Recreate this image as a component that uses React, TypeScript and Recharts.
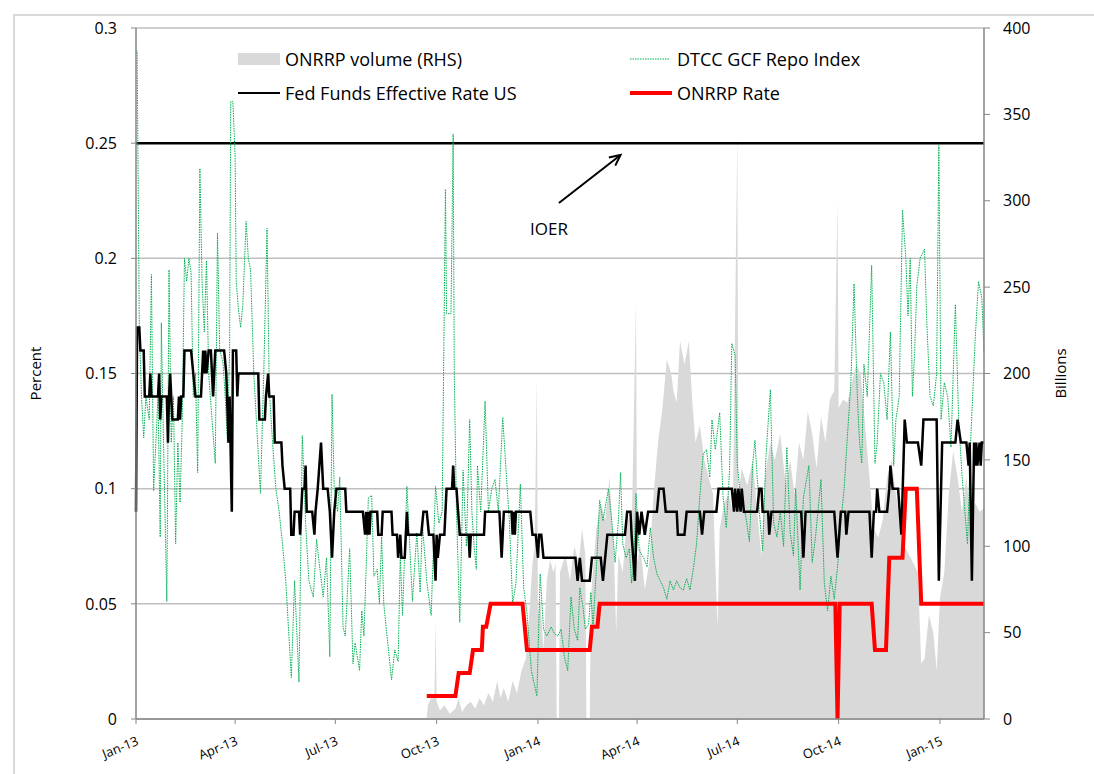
import React from "react";
import {
  ComposedChart,
  Area,
  Line,
  XAxis,
  YAxis,
  CartesianGrid,
  ReferenceLine,
  ReferenceDot,
} from "recharts";

// x values are days counted from 1 Jan 2013
const monthTicks = [0, 90, 181, 273, 365, 455, 546, 638, 730];
const monthLabels = ["Jan-13", "Apr-13", "Jul-13", "Oct-13", "Jan-14", "Apr-14", "Jul-14", "Oct-14", "Jan-15"];
const percentTicks = [0, 0.05, 0.1, 0.15, 0.2, 0.25, 0.3];
const billionTicks = [0, 50, 100, 150, 200, 250, 300, 350, 400];
const ioerRate = 0.25;

// ONRRP take-up, $bn (right axis)
const onrrpVolume: [number, number][] = [
  [264, 0], [265, 8], [268, 12], [271, 12], [272, 58], [273, 10], [276, 5], [280, 8], [285, 3], [290, 6],
  [293, 12], [296, 4], [300, 8], [304, 10], [308, 6], [312, 12], [316, 8], [320, 15], [324, 10], [328, 22],
  [331, 12], [334, 18], [338, 10], [342, 22], [346, 15], [350, 28], [354, 35], [357, 60], [360, 90], [362, 100],
  [364, 198], [365, 60], [367, 70], [370, 40], [373, 80], [376, 92], [379, 85], [381, 90], [382, 0], [384, 0],
  [385, 85], [390, 95], [394, 80], [398, 100], [402, 90], [405, 110], [408, 95], [409, 0], [412, 0], [413, 70],
  [418, 110], [422, 125], [426, 115], [430, 140], [434, 95], [436, 50], [438, 95], [442, 85], [446, 120], [450, 105],
  [454, 242], [455, 90], [458, 100], [462, 75], [466, 90], [470, 130], [474, 160], [478, 180], [482, 208], [486, 200],
  [488, 190], [491, 183], [494, 219], [498, 205], [502, 219], [505, 185], [508, 160], [512, 170], [516, 150], [520, 140],
  [524, 130], [528, 53], [530, 110], [534, 125], [538, 130], [542, 120], [546, 339], [547, 130], [550, 145], [555, 135],
  [560, 150], [564, 120], [568, 94], [571, 140], [576, 160], [580, 150], [585, 165], [590, 135], [594, 150], [598, 130],
  [602, 160], [606, 150], [610, 178], [614, 165], [618, 145], [622, 175], [626, 160], [630, 185], [634, 190], [637, 300],
  [638, 180], [642, 185], [646, 183], [650, 195], [654, 205], [658, 200], [662, 170], [666, 140], [670, 110], [674, 105],
  [678, 115], [682, 140], [686, 150], [690, 130], [694, 115], [698, 100], [702, 95], [706, 90], [710, 85], [713, 32],
  [716, 35], [720, 60], [724, 50], [727, 28], [730, 70], [734, 85], [738, 130], [742, 155], [746, 140], [750, 120],
  [754, 140], [758, 115], [762, 125], [766, 120], [770, 122],
];

// DTCC GCF Repo Index (treasury), percent
const gcfRepo: [number, number][] = [
  [0, 0.29], [1, 0.29], [3, 0.171], [5, 0.14], [7, 0.122], [9, 0.14], [12, 0.13], [14, 0.193], [16, 0.099], [18, 0.12],
  [20, 0.14], [22, 0.079], [23, 0.172], [25, 0.12], [28, 0.051], [30, 0.195], [32, 0.12], [34, 0.14], [36, 0.076], [38, 0.12],
  [40, 0.094], [42, 0.13], [44, 0.2], [46, 0.19], [48, 0.2], [50, 0.194], [52, 0.14], [54, 0.15], [56, 0.107], [58, 0.239],
  [60, 0.19], [62, 0.168], [64, 0.199], [66, 0.15], [69, 0.13], [72, 0.111], [74, 0.211], [76, 0.16], [79, 0.155], [81, 0.14],
  [83, 0.12], [85, 0.16], [86, 0.268], [88, 0.268], [90, 0.244], [91, 0.19], [93, 0.178], [95, 0.17], [97, 0.18], [100, 0.216],
  [102, 0.2], [104, 0.195], [107, 0.15], [111, 0.115], [113, 0.098], [116, 0.15], [119, 0.213], [121, 0.143], [124, 0.12], [127, 0.1],
  [130, 0.09], [133, 0.076], [136, 0.06], [141, 0.018], [144, 0.06], [148, 0.016], [151, 0.123], [154, 0.085], [157, 0.06], [161, 0.053],
  [164, 0.078], [167, 0.065], [170, 0.053], [173, 0.07], [176, 0.027], [178, 0.141], [180, 0.1], [183, 0.09], [185, 0.105], [188, 0.04],
  [190, 0.036], [194, 0.074], [197, 0.024], [199, 0.033], [203, 0.021], [205, 0.047], [207, 0.036], [211, 0.096], [214, 0.097], [216, 0.062],
  [219, 0.065], [221, 0.05], [223, 0.079], [225, 0.05], [232, 0.017], [235, 0.03], [238, 0.025], [240, 0.071], [242, 0.045], [246, 0.101],
  [249, 0.071], [251, 0.051], [255, 0.081], [258, 0.055], [260, 0.085], [264, 0.06], [268, 0.045], [272, 0.101], [275, 0.085], [278, 0.09],
  [281, 0.23], [282, 0.176], [286, 0.176], [288, 0.254], [289, 0.15], [291, 0.09], [294, 0.042], [297, 0.108], [300, 0.075], [303, 0.13],
  [305, 0.09], [307, 0.075], [309, 0.065], [310, 0.11], [313, 0.09], [317, 0.138], [320, 0.09], [323, 0.1], [326, 0.104], [329, 0.09],
  [333, 0.131], [336, 0.108], [339, 0.086], [342, 0.05], [345, 0.059], [349, 0.102], [352, 0.057], [355, 0.046], [359, 0.021], [364, 0.01],
  [367, 0.063], [370, 0.039], [373, 0.036], [377, 0.04], [380, 0.037], [383, 0.036], [386, 0.039], [389, 0.027], [392, 0.021], [395, 0.053],
  [398, 0.039], [401, 0.034], [403, 0.057], [406, 0.048], [408, 0.039], [411, 0.041], [413, 0.055], [415, 0.04], [418, 0.065], [421, 0.095],
  [424, 0.086], [429, 0.1], [432, 0.086], [435, 0.068], [438, 0.086], [440, 0.107], [442, 0.076], [445, 0.07], [448, 0.074], [450, 0.059],
  [452, 0.068], [454, 0.098], [457, 0.073], [461, 0.07], [464, 0.066], [467, 0.083], [470, 0.07], [473, 0.063], [476, 0.06], [479, 0.057],
  [482, 0.052], [485, 0.06], [488, 0.056], [491, 0.06], [494, 0.057], [497, 0.056], [500, 0.061], [503, 0.056], [506, 0.065], [509, 0.076],
  [512, 0.097], [515, 0.115], [518, 0.117], [521, 0.105], [523, 0.13], [526, 0.117], [530, 0.133], [533, 0.097], [536, 0.083], [539, 0.108],
  [541, 0.163], [544, 0.158], [546, 0.11], [548, 0.101], [551, 0.094], [554, 0.087], [557, 0.077], [560, 0.111], [562, 0.121], [566, 0.09],
  [569, 0.073], [572, 0.114], [576, 0.143], [579, 0.085], [582, 0.079], [585, 0.09], [588, 0.075], [591, 0.118], [594, 0.081], [597, 0.071],
  [599, 0.1], [603, 0.056], [606, 0.096], [611, 0.11], [614, 0.068], [617, 0.079], [622, 0.104], [625, 0.059], [628, 0.047], [631, 0.062],
  [634, 0.052], [637, 0.066], [640, 0.085], [643, 0.1], [646, 0.123], [649, 0.145], [652, 0.189], [655, 0.14], [657, 0.12], [659, 0.111],
  [661, 0.154], [664, 0.14], [668, 0.197], [671, 0.111], [673, 0.12], [676, 0.15], [679, 0.146], [682, 0.13], [685, 0.168], [688, 0.11],
  [690, 0.13], [693, 0.14], [696, 0.221], [699, 0.2], [701, 0.175], [703, 0.2], [705, 0.14], [707, 0.159], [709, 0.188], [712, 0.2],
  [716, 0.204], [718, 0.173], [721, 0.14], [724, 0.136], [727, 0.15], [729, 0.249], [731, 0.13], [734, 0.146], [737, 0.14], [740, 0.118],
  [744, 0.18], [747, 0.13], [750, 0.106], [752, 0.094], [755, 0.076], [758, 0.122], [762, 0.165], [765, 0.19], [768, 0.183], [770, 0.159],
];

// Fed funds effective rate, percent
const fedFunds: [number, number][] = [
  [0, 0.09], [1, 0.17], [3, 0.17], [4, 0.16], [7, 0.16], [8, 0.14], [12, 0.14], [13, 0.15], [14, 0.14], [20, 0.14],
  [21, 0.15], [22, 0.13], [23, 0.14], [28, 0.14], [29, 0.12], [30, 0.14], [31, 0.15], [32, 0.14], [33, 0.13], [38, 0.13],
  [39, 0.14], [40, 0.13], [41, 0.14], [43, 0.14], [44, 0.16], [50, 0.16], [52, 0.15], [54, 0.14], [59, 0.14], [61, 0.16],
  [62, 0.15], [63, 0.16], [64, 0.15], [66, 0.16], [68, 0.16], [70, 0.14], [72, 0.16], [80, 0.16], [82, 0.15], [84, 0.12],
  [85, 0.14], [87, 0.09], [88, 0.16], [91, 0.16], [92, 0.14], [93, 0.15], [111, 0.15], [112, 0.13], [117, 0.13], [118, 0.14],
  [120, 0.15], [121, 0.14], [125, 0.14], [126, 0.12], [132, 0.12], [133, 0.11], [135, 0.1], [140, 0.1], [141, 0.08], [143, 0.08],
  [144, 0.09], [148, 0.09], [149, 0.08], [151, 0.1], [153, 0.1], [154, 0.11], [155, 0.09], [160, 0.09], [162, 0.08], [163, 0.09],
  [165, 0.1], [168, 0.12], [170, 0.1], [174, 0.1], [176, 0.09], [178, 0.07], [180, 0.09], [182, 0.1], [190, 0.1], [191, 0.09],
  [206, 0.09], [208, 0.08], [209, 0.09], [210, 0.08], [211, 0.09], [212, 0.08], [213, 0.09], [219, 0.09], [220, 0.08], [223, 0.08],
  [224, 0.09], [232, 0.09], [233, 0.08], [237, 0.08], [238, 0.07], [240, 0.08], [241, 0.07], [244, 0.07], [246, 0.09], [247, 0.08],
  [259, 0.08], [261, 0.09], [264, 0.09], [266, 0.08], [270, 0.08], [272, 0.06], [273, 0.08], [274, 0.07], [276, 0.08], [280, 0.08],
  [282, 0.1], [287, 0.1], [288, 0.11], [289, 0.1], [291, 0.1], [294, 0.08], [302, 0.08], [303, 0.07], [304, 0.08], [316, 0.08],
  [317, 0.09], [330, 0.09], [332, 0.07], [334, 0.09], [341, 0.09], [342, 0.08], [343, 0.09], [344, 0.08], [345, 0.09], [358, 0.09],
  [360, 0.08], [363, 0.08], [365, 0.07], [366, 0.08], [368, 0.08], [370, 0.07], [399, 0.07], [401, 0.06], [403, 0.07], [405, 0.06],
  [412, 0.06], [414, 0.07], [422, 0.07], [424, 0.06], [426, 0.07], [428, 0.08], [444, 0.08], [446, 0.09], [449, 0.09], [450, 0.08],
  [453, 0.06], [455, 0.09], [457, 0.08], [459, 0.09], [462, 0.08], [465, 0.09], [473, 0.09], [475, 0.1], [479, 0.1], [481, 0.09],
  [491, 0.09], [492, 0.08], [498, 0.08], [500, 0.09], [512, 0.09], [514, 0.08], [516, 0.09], [527, 0.09], [529, 0.1], [541, 0.1],
  [543, 0.09], [544, 0.1], [546, 0.09], [547, 0.1], [549, 0.09], [550, 0.1], [552, 0.09], [564, 0.09], [566, 0.1], [568, 0.1],
  [569, 0.09], [574, 0.09], [575, 0.08], [577, 0.09], [604, 0.09], [606, 0.07], [608, 0.09], [634, 0.09], [637, 0.07], [640, 0.09],
  [644, 0.09], [645, 0.08], [647, 0.09], [666, 0.09], [668, 0.07], [670, 0.09], [672, 0.09], [673, 0.1], [675, 0.09], [682, 0.09],
  [684, 0.1], [685, 0.11], [687, 0.1], [692, 0.1], [695, 0.08], [698, 0.13], [700, 0.12], [710, 0.12], [713, 0.11], [715, 0.13],
  [727, 0.13], [729, 0.06], [732, 0.12], [744, 0.12], [746, 0.13], [749, 0.12], [754, 0.12], [756, 0.11], [757, 0.12], [759, 0.06],
  [761, 0.12], [762, 0.11], [763, 0.12], [764, 0.11], [766, 0.12], [767, 0.11], [768, 0.12], [770, 0.12],
];

// ONRRP offering rate, percent
const onrrpRate: [number, number][] = [
  [264, 0.01], [290, 0.01], [293, 0.02], [303, 0.02], [306, 0.03], [314, 0.03], [315, 0.04], [318, 0.04], [322, 0.05], [351, 0.05],
  [355, 0.03], [412, 0.03], [414, 0.04], [419, 0.04], [421, 0.05], [635, 0.05], [637, 0], [639, 0.05], [668, 0.05], [671, 0.03],
  [681, 0.03], [684, 0.07], [696, 0.07], [699, 0.1], [709, 0.1], [713, 0.05], [770, 0.05],
];

type Row = { day: number; vol?: number; gcf?: number; ff?: number; rrp?: number };

function buildRows(): Row[] {
  const byDay = new Map<number, Row>();
  const put = (series: [number, number][], key: "vol" | "gcf" | "ff" | "rrp") => {
    for (const [day, value] of series) {
      const row = byDay.get(day) ?? { day };
      row[key] = value;
      byDay.set(day, row);
    }
  };
  put(onrrpVolume, "vol");
  put(gcfRepo, "gcf");
  put(fedFunds, "ff");
  put(onrrpRate, "rrp");
  return [...byDay.values()].sort((a, b) => a.day - b.day);
}

const rows = buildRows();

const axisGrey = "#868686";
const tickStyle = { fontSize: 16, fill: "#000" };

function axisTitle(text: string, dx: number) {
  return (props: any) => {
    const vb = props.viewBox;
    const x = vb.x + dx;
    const y = vb.y + vb.height / 2;
    return (
      <text x={x} y={y} transform={`rotate(-90 ${x} ${y})`} textAnchor="middle" dominantBaseline="central" fontSize={15} fill="#000">
        {text}
      </text>
    );
  };
}

function IoerArrow(props: any) {
  const { x1, y1, x2, y2 } = props;
  const ang = Math.atan2(y2 - y1, x2 - x1);
  const head = 12;
  const a1 = ang + Math.PI - 0.45;
  const a2 = ang + Math.PI + 0.45;
  const pts = `${x2 + head * Math.cos(a1)},${y2 + head * Math.sin(a1)} ${x2},${y2} ${x2 + head * Math.cos(a2)},${y2 + head * Math.sin(a2)}`;
  return (
    <g stroke="#000" strokeWidth={2} fill="none">
      <line x1={x1} y1={y1} x2={x2} y2={y2} />
      <polyline points={pts} />
    </g>
  );
}

function LegendItem({ swatch, label }: { swatch: React.ReactNode; label: string }) {
  return (
    <div style={{ display: "flex", alignItems: "center", height: 34 }}>
      <div style={{ width: 42, marginRight: 5, display: "flex", alignItems: "center" }}>{swatch}</div>
      <span style={{ fontSize: 18, whiteSpace: "nowrap" }}>{label}</span>
    </div>
  );
}

export default function App() {
  return (
    <div
      style={{
        position: "absolute",
        left: 0,
        top: 0,
        width: 1094,
        height: 774,
        overflow: "hidden",
        background: "#fff",
        fontFamily: "'Open Sans', 'Noto Sans', sans-serif",
        color: "#000",
      }}
    >
      <div
        style={{
          position: "absolute",
          left: 13,
          top: 14,
          right: -4,
          bottom: -4,
          borderLeft: "2px solid #d9d9d9",
          borderTop: "2px solid #d9d9d9",
        }}
      />
      <ComposedChart width={1094} height={774} data={rows} margin={{ top: 28, right: 0, bottom: 15, left: 0 }}>
        <CartesianGrid yAxisId="left" vertical={false} stroke="#bfbfbf" strokeWidth={1.5} />
        <XAxis
          type="number"
          dataKey="day"
          domain={[0, 770]}
          ticks={monthTicks}
          interval={0}
          tickFormatter={(v: number) => monthLabels[monthTicks.indexOf(v)] ?? ""}
          angle={-22}
          textAnchor="end"
          height={40}
          tickSize={5}
          tickMargin={12}
          tick={{ fontSize: 13, fill: "#000" }}
          axisLine={{ stroke: axisGrey, strokeWidth: 1.5 }}
          tickLine={{ stroke: axisGrey }}
        />
        <YAxis
          yAxisId="left"
          domain={[0, 0.3]}
          ticks={percentTicks}
          interval={0}
          width={136}
          tickSize={5}
          tickMargin={14}
          tick={tickStyle}
          axisLine={{ stroke: axisGrey, strokeWidth: 1.5 }}
          tickLine={{ stroke: axisGrey }}
          label={{ content: axisTitle("Percent", 35) }}
        />
        <YAxis
          yAxisId="right"
          orientation="right"
          domain={[0, 400]}
          ticks={billionTicks}
          interval={0}
          width={110}
          tickSize={6}
          tickMargin={13}
          tick={tickStyle}
          axisLine={{ stroke: axisGrey, strokeWidth: 1.5 }}
          tickLine={{ stroke: axisGrey }}
          label={{ content: axisTitle("Billions", 76) }}
        />
        <Area
          yAxisId="right"
          type="linear"
          dataKey="vol"
          fill="#d9d9d9"
          fillOpacity={1}
          stroke="none"
          connectNulls
          isAnimationActive={false}
        />
        <ReferenceLine yAxisId="left" y={ioerRate} stroke="#000" strokeWidth={2.5} />
        <Line
          yAxisId="left"
          type="linear"
          dataKey="gcf"
          stroke="#00b050"
          strokeWidth={1}
          strokeDasharray="1.5 1"
          dot={false}
          connectNulls
          isAnimationActive={false}
        />
        <Line
          yAxisId="left"
          type="linear"
          dataKey="ff"
          stroke="#000"
          strokeWidth={2.5}
          dot={false}
          connectNulls
          isAnimationActive={false}
        />
        <Line
          yAxisId="left"
          type="linear"
          dataKey="rrp"
          stroke="#ff0000"
          strokeWidth={4}
          dot={false}
          connectNulls
          isAnimationActive={false}
        />
        <ReferenceLine
          yAxisId="left"
          segment={[
            { x: 384, y: 0.224 },
            { x: 440, y: 0.2449 },
          ]}
          shape={IoerArrow}
        />
        <ReferenceDot
          yAxisId="left"
          x={375}
          y={0.213}
          r={1}
          shape={(p: any) => (
            <text x={p.cx} y={p.cy} textAnchor="middle" dominantBaseline="central" fontSize={17} fill="#000">
              IOER
            </text>
          )}
        />
      </ComposedChart>
      <div
        style={{
          position: "absolute",
          left: 238,
          top: 42,
          display: "grid",
          gridTemplateColumns: "392px auto",
        }}
      >
        <LegendItem swatch={<div style={{ width: 42, height: 12, background: "#d9d9d9" }} />} label="ONRRP volume (RHS)" />
        <LegendItem
          swatch={
            <svg width={40} height={4}>
              <line x1={0} y1={2} x2={40} y2={2} stroke="#00b050" strokeWidth={1.2} strokeDasharray="1.5 1" />
            </svg>
          }
          label="DTCC GCF Repo Index"
        />
        <LegendItem swatch={<div style={{ width: 42, height: 2.5, background: "#000" }} />} label="Fed Funds Effective Rate US" />
        <LegendItem swatch={<div style={{ width: 42, height: 4, background: "#ff0000" }} />} label="ONRRP Rate" />
      </div>
    </div>
  );
}
